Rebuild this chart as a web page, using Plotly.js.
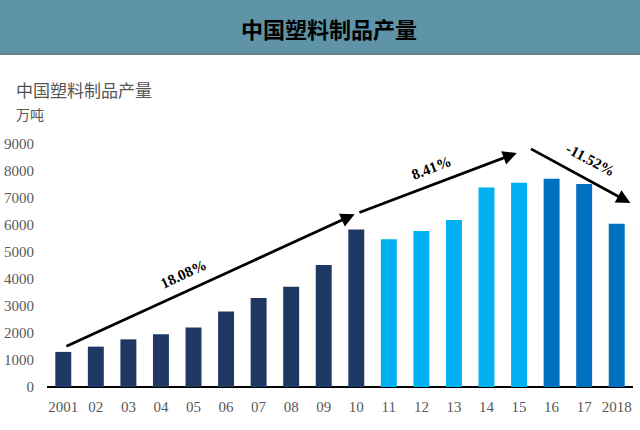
<!DOCTYPE html>
<html>
<head>
<meta charset="utf-8">
<script src="https://cdn.plot.ly/plotly-3.0.1.min.js"></script>
<style>
  html, body { margin: 0; padding: 0; background: #fff; }
  #chart { width: 640px; height: 430px; }
</style>
</head>
<body>
<div id="chart"></div>
<script>
// 中国塑料制品产量 (万吨)
const years = ['2001', '02', '03', '04', '05', '06', '07', '08', '09', '10',
               '11', '12', '13', '14', '15', '16', '17', '2018'];
const output = [1300, 1495, 1765, 1950, 2200, 2800, 3300, 3715, 4520, 5830,
                5474, 5782, 6189, 7388, 7561, 7717, 7516, 6042];
const barColors = [
  '#1f3864', '#1f3864', '#1f3864', '#1f3864', '#1f3864',
  '#1f3864', '#1f3864', '#1f3864', '#1f3864', '#1f3864',
  '#00b0f0', '#00b0f0', '#00b0f0', '#00b0f0', '#00b0f0',
  '#0070c0', '#0070c0', '#0070c0'
];

// growth-rate arrows: [tailX, tailY, headX, headY] in data units
const trendArrows = [
  [0.05, 1480, 8.95, 6400],
  [9.05, 6440, 13.93, 8670],
  [14.32, 8850, 17.42, 6815]
];
// growth-rate labels: text, x, y, angle
const trendLabels = [
  ['18.08%', 3.7, 4200, -25],
  ['8.41%', 11.3, 8100, -21],
  ['-11.52%', 16.2, 8400, 28]
];

const W = 640, H = 430;
const margin = { l: 47, r: 7, t: 144, b: 43 };
const px2x = px => (px - margin.l) / (W - margin.l - margin.r);
const px2y = py => (H - margin.b - py) / (H - margin.t - margin.b);

const idx = years.map((_, i) => i);

const trace = {
  x: idx,
  y: output,
  type: 'bar',
  width: 0.49,
  marker: { color: barColors },
  hovertemplate: '%{text}: %{y}万吨<extra></extra>',
  text: years,
  textposition: 'none'
};

const annotations = [];
trendArrows.forEach(a => {
  annotations.push({
    xref: 'x', yref: 'y', axref: 'x', ayref: 'y',
    ax: a[0], ay: a[1], x: a[2], y: a[3],
    text: '', showarrow: true,
    arrowhead: 2, arrowsize: 1, arrowwidth: 2.8, arrowcolor: '#000'
  });
});
trendLabels.forEach(l => {
  annotations.push({
    xref: 'x', yref: 'y', x: l[1], y: l[2],
    text: '<b>' + l[0] + '</b>', showarrow: false, textangle: l[3],
    font: { family: 'Liberation Serif, serif', size: 15, color: '#000' }
  });
});

// header bar title
annotations.push({
  xref: 'paper', yref: 'paper', x: px2x(329), y: px2y(28),
  text: '<b>中国塑料制品产量</b>', showarrow: false,
  xanchor: 'center', yanchor: 'middle',
  font: { family: 'Noto Sans CJK SC', size: 22, color: '#000' }
});
// axis caption
annotations.push({
  xref: 'paper', yref: 'paper', x: px2x(14), y: px2y(89),
  text: '中国塑料制品产量', showarrow: false,
  xanchor: 'left', yanchor: 'middle',
  font: { family: 'Noto Sans CJK SC', size: 17, color: '#555' }
});
annotations.push({
  xref: 'paper', yref: 'paper', x: px2x(14), y: px2y(114),
  text: '万吨', showarrow: false,
  xanchor: 'left', yanchor: 'middle',
  font: { family: 'Noto Sans CJK SC', size: 14, color: '#555' }
});

const shapes = [
  {
    type: 'rect', xref: 'paper', yref: 'paper', layer: 'below',
    x0: px2x(0), x1: px2x(W), y0: px2y(53), y1: px2y(0),
    fillcolor: '#5e93a8', line: { width: 0 }
  },
  {
    type: 'line', xref: 'paper', yref: 'paper',
    x0: px2x(0), x1: px2x(W), y0: px2y(54), y1: px2y(54),
    line: { color: '#6f7f86', width: 2 }
  }
];

const layout = {
  width: W,
  height: H,
  margin: margin,
  paper_bgcolor: '#ffffff',
  plot_bgcolor: '#ffffff',
  showlegend: false,
  xaxis: {
    range: [-0.5, 17.5],
    tickvals: idx,
    ticktext: years,
    showgrid: false,
    zeroline: false,
    showline: false,
    ticks: '',
    ticklabelstandoff: 9,
    tickfont: { family: 'Liberation Serif, serif', size: 15, color: '#595959' }
  },
  yaxis: {
    range: [0, 9000],
    dtick: 1000,
    showgrid: false,
    zeroline: true,
    zerolinecolor: '#000',
    zerolinewidth: 2,
    showline: false,
    ticks: '',
    ticklabelstandoff: 12,
    tickfont: { family: 'Liberation Serif, serif', size: 15, color: '#595959' }
  },
  annotations: annotations,
  shapes: shapes
};

Plotly.newPlot('chart', [trace], layout, { displayModeBar: false, staticPlot: true });
</script>
</body>
</html>
